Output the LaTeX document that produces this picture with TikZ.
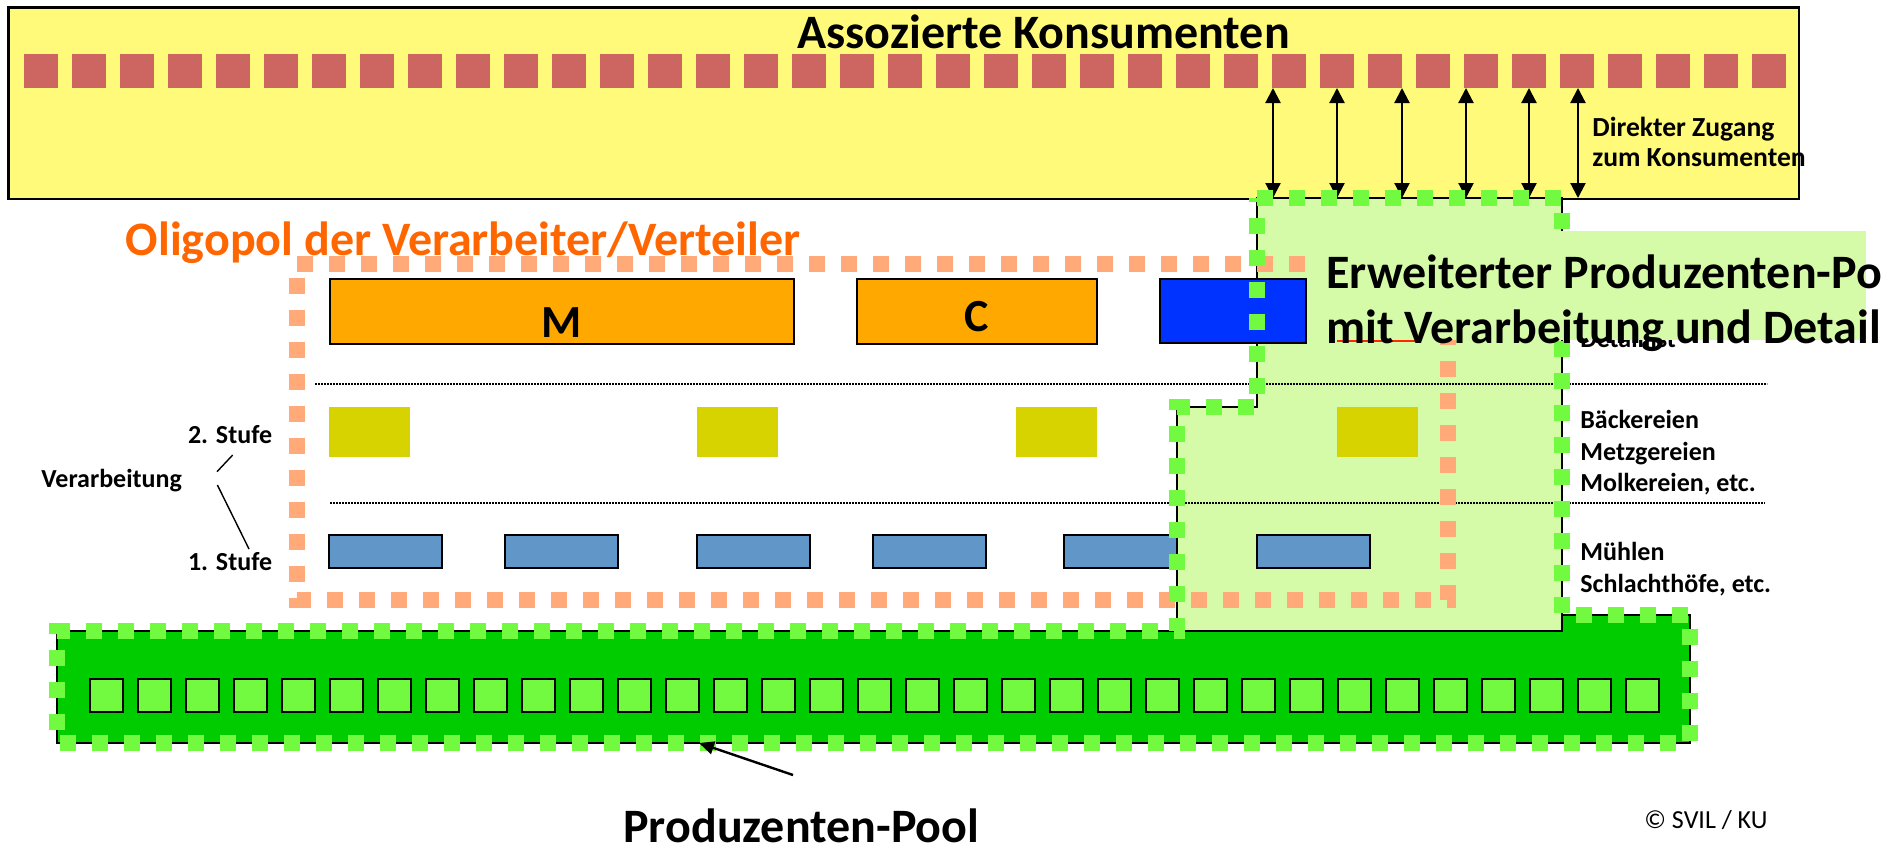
\documentclass[tikz,border=0pt]{standalone}
\usepackage{fontspec}
\setmainfont{Carlito}
\usetikzlibrary{arrows.meta}
\definecolor{gelb}{RGB}{255,250,122}
\definecolor{rotbraun}{RGB}{205,102,96}
\definecolor{orangebox}{RGB}{255,168,0}
\definecolor{blaubox}{RGB}{0,51,255}
\definecolor{oliv}{RGB}{214,211,0}
\definecolor{stahlblau}{RGB}{96,150,200}
\definecolor{hellgruen}{RGB}{213,251,168}
\definecolor{dunkelgruen}{RGB}{0,204,0}
\definecolor{leuchtgruen}{RGB}{114,250,65}
\definecolor{lachs}{RGB}{255,170,120}
\definecolor{oligorange}{RGB}{255,102,0}
\definecolor{detailrot}{RGB}{255,40,0}
\tikzstyle{rand}=[draw=black, line width=1pt]
\tikzstyle{quadrat}=[draw=black, line width=0.9pt, fill=leuchtgruen]
\tikzstyle{gruenrand}=[draw=leuchtgruen, line width=8pt, dash pattern=on 8pt off 8pt]
\tikzstyle{orangerand}=[draw=lachs, line width=8pt, dash pattern=on 8pt off 8pt]
\tikzstyle{punktlinie}=[line width=0.8pt, dash pattern=on 0.8pt off 0.7pt]
\tikzstyle{pfeil}=[line width=1.1pt, {Triangle[length=7.5pt,width=7.5pt]}-{Triangle[length=7.5pt,width=7.5pt]}]
\tikzstyle{zeiger}=[line width=1.2pt, -{Triangle[length=7.5pt,width=6.5pt]}]
\tikzstyle{titel}=[font=\fontsize{24}{30}\selectfont\bfseries, inner sep=0pt, anchor=base west]
\tikzstyle{buchstabe}=[font=\fontsize{23}{28}\selectfont\bfseries, inner sep=0pt, anchor=base]
\tikzstyle{klein}=[font=\fontsize{13}{16}\selectfont\bfseries, inner sep=0pt, anchor=base west]

\begin{document}
\begin{tikzpicture}[x=0.5pt, y=-0.5pt]
          \useasboundingbox (0,0) rectangle (1903,851);
          \draw[rand, line width=1.2pt, fill=gelb] (8.6,7.3) rectangle (1799,199);
          \foreach \i in {0,...,36}
            \fill[rotbraun] ({24+48*\i},54) rectangle +(34,34);
          \node[titel] (konsumenten) at (797,48) {Assozierte Konsumenten};
          \foreach \x [count=\n] in {1273,1337,1402,1466,1529,1578} {
            \coordinate (zo\n) at (\x,88);
            \coordinate (zu\n) at (\x,198);
            \draw[pfeil] (zo\n) -- (zu\n);
          }
          \node[klein, font=\fontsize{13.8}{16}\selectfont\bfseries] (zugang) at (1592,136.7) {Direkter Zugang};
          \node[klein, font=\fontsize{13.8}{16}\selectfont\bfseries] (konsument) at (1592,166.7) {zum Konsumenten};

          \draw[rand, fill=dunkelgruen]
            (57,631) -- (1562,631) -- (1562,615) -- (1690,615)
            -- (1690,743) -- (57,743) -- cycle;
          \foreach \i in {0,...,32}
            \draw[quadrat] ({90+48*\i},679) rectangle +(33,33);
          \draw[rand, fill=hellgruen]
            (1257,198) -- (1562,198) -- (1562,631) -- (1177,631)
            -- (1177,407) -- (1257,407) -- cycle;

          \draw[punktlinie] (315,384) -- (1767,384);
          \draw[punktlinie] (330,503) -- (1765,503);
          \draw[rand, fill=orangebox] (329.5,279) rectangle (794,344);
          \node[buchstabe] (m) at (562,337) {M};
          \draw[rand, fill=orangebox] (857,279) rectangle (1097,344);
          \node[buchstabe] (c) at (977,331) {C};
          \draw[rand, fill=blaubox] (1160,279) rectangle (1306,343);
          \fill[detailrot] (1337,279) rectangle (1418,342);
          \foreach \x in {329,697,1016,1337}
            \fill[oliv] (\x,407) rectangle +(81,50);
          \foreach \x in {329,505,697,873,1064,1257}
            \draw[rand, fill=stahlblau] (\x,535) rectangle +(113,33);

          \draw[orangerand] (297,264) -- (1448,264) -- (1448,600) -- (297,600) -- cycle;
          \draw[gruenrand]
            (1257,198) -- (1562,198) -- (1562,615) -- (1690,615)
            -- (1690,743) -- (57,743) -- (57,631) -- (1177,631)
            -- (1177,407) -- (1257,407) -- cycle;

          \node[klein] (detaillist) at (1580,347) {Detaillist};
          \fill[hellgruen] (1312,231) rectangle (1866,340);
          \node[titel] (erweitert) at (1326,288) {Erweiterter Produzenten-Po};
          \node[titel] (verarbeitung) at (1326,343) {mit Verarbeitung und Detail};
          \node[titel, text=oligorange] (oligopol) at (125.5,255) {Oligopol der Verarbeiter/Verteiler};

          \node[klein, anchor=base east] (stufe2) at (272.5,443.3) {2. Stufe};
          \node[klein, anchor=base east] (stufe1) at (272.5,570.7) {1. Stufe};
          \node[klein] (verarb) at (41,487.3) {Verarbeitung};
          \coordinate (s2a) at (232.7,455);
          \coordinate (s2b) at (217,471.7);
          \coordinate (s1a) at (217.4,485);
          \coordinate (s1b) at (249,549);
          \draw[line width=0.7pt] (s2a) -- (s2b);
          \draw[line width=0.7pt] (s1a) -- (s1b);

          \node[klein] (baecker) at (1580,428.3) {Bäckereien};
          \node[klein] (metzger) at (1580,460) {Metzgereien};
          \node[klein] (molkerei) at (1580,491.7) {Molkereien, etc.};
          \node[klein] (muehlen) at (1580,560.7) {Mühlen};
          \node[klein] (schlacht) at (1580,592.7) {Schlachthöfe, etc.};

          \node[titel] (pool) at (623,842) {Produzenten-Pool};
          \coordinate (poolfuss) at (793,775);
          \coordinate (poolspitze) at (699,743);
          \draw[zeiger] (poolfuss) -- (poolspitze);
          \node[klein, font=\fontsize{13}{16}\selectfont] (copy) at (1644,828) {© SVIL / KU};
        \end{tikzpicture}
\end{document}
